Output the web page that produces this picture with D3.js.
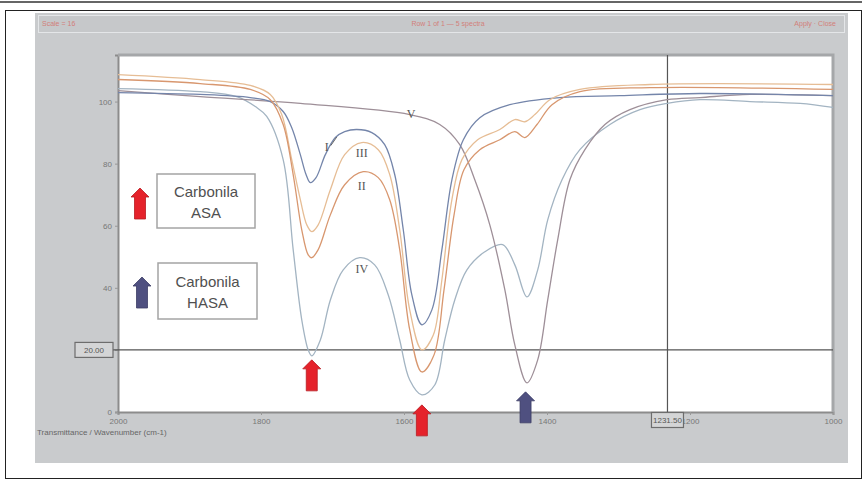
<!DOCTYPE html>
<html>
<head>
<meta charset="utf-8">
<script src="https://cdn.jsdelivr.net/npm/d3@7"></script>
<style>
body { margin: 0; background: #fff; }
svg { display: block; font-family: "Liberation Sans", Arial, sans-serif; }
</style>
</head>
<body>
<svg id="chart" width="862" height="480"></svg>
<script>
// spectra: wavenumber (cm-1) and transmittance (%)
var wnI = [2000,1885,1815,1787,1769,1757,1745,1737,1731,1723,1710,1696,1683,1666,1645,1627,1613,1601,1589,1575,1561,1547,1533,1517,1494,1452,1382,1298,1186,1000];
var tI  = [102.9,102.3,101.3,100.0,96.8,91.6,82.9,76.5,73.9,75.5,82.9,88.4,90.3,91.0,90.0,86.1,76.5,58.7,37.7,28.1,32.9,52.3,74.8,87.7,94.8,99.0,101.3,101.9,102.6,101.9];

var wnII = [2000,1885,1815,1787,1769,1755,1743,1734,1729,1720,1703,1683,1657,1636,1620,1606,1592,1575,1558,1544,1530,1516,1494,1466,1445,1431,1414,1393,1354,1256,1000];
var tII  = [107.1,105.8,103.9,100.6,92.6,76.5,58.7,50.6,49.7,52.3,63.5,73.2,77.4,75.5,68.4,52.3,26.5,12.9,18.4,39.4,63.5,78.1,84.5,87.7,90.3,88.4,92.6,99.0,103.2,104.5,103.9];

var wnIII = [2000,1885,1815,1787,1771,1757,1745,1736,1729,1720,1703,1683,1659,1636,1620,1606,1592,1575,1559,1547,1533,1519,1497,1466,1445,1431,1417,1396,1354,1256,1000];
var tIII  = [108.7,107.1,105.2,102.3,95.8,81.3,68.4,60.3,58.1,60.3,71.6,82.9,86.8,84.5,76.5,58.7,32.9,20.0,24.8,42.6,68.4,81.3,87.7,91.0,94.2,93.5,95.8,100.6,103.9,105.5,105.5];

var wnIV = [2000,1885,1834,1808,1792,1769,1755,1743,1734,1729,1717,1703,1685,1662,1641,1622,1606,1592,1575,1557,1543,1529,1512,1487,1462,1445,1428,1413,1399,1379,1354,1312,1270,1232,1186,1116,1046,1000];
var tIV  = [104.2,103.2,101.6,98.4,95.2,81.3,52.3,29.7,20.0,18.1,23.2,36.1,45.8,49.7,47.4,37.7,23.2,10.3,5.5,8.7,23.2,36.1,45.8,51.6,53.9,47.4,37.1,45.8,61.9,74.8,84.5,92.6,97.4,99.4,100.6,100.0,99.4,98.1];

var wnV = [2000,1885,1745,1592,1550,1522,1501,1480,1459,1445,1428,1413,1399,1385,1368,1347,1319,1284,1232,1186,1116,1000];
var tV  = [103.5,101.6,99.4,95.8,92.6,86.1,74.8,60.3,39.4,21.6,9.4,16.8,36.1,55.5,74.8,84.5,92.6,97.4,100.6,101.3,102.3,101.9];

var seriesNames = ["IV", "V", "I", "III", "II"];
var seriesColors = ["#a3b4c2", "#9e8f98", "#7485aa", "#e6bd95", "#d8976f"];

// axis ticks
var xTicks = [2000, 1800, 1600, 1400, 1200, 1000];
var yTicks = [0, 20, 40, 60, 80, 100];

// cursor read-out
var crossWn = 1231.5;
var crossT = 20;

// curve labels (placed at wavenumber / transmittance)
var labelText = ["I", "III", "II", "IV", "V"];
var labelWn = [1708, 1659, 1659, 1659, 1590];
var labelT = [85.5, 83.5, 72.9, 46.1, 96.1];

// arrows marking the carbonyl bands
var arrowWn = [1729, 1575, 1430];
var arrowTip = [16.8, 2.3, 6.5];
var arrowKind = ["ASA", "ASA", "HASA"];

var legendNames = ["ASA", "HASA"];

var RED = "#e5222b", BLUE = "#4f5080";

var svg = d3.select("#chart");
var plot = {left: 118, right: 833, top: 55, bottom: 412};

var x = d3.scaleLinear().domain([2000, 1000]).range([plot.left, plot.right]);
var y = d3.scaleLinear().domain([0, 115]).range([plot.bottom, plot.top]);

// page frame
svg.append("line").attr("x1", 0).attr("x2", 862).attr("y1", 2).attr("y2", 2)
	.style("stroke", "#666").style("stroke-width", 2);
svg.append("rect").attr("x", 5.5).attr("y", 10.5).attr("width", 856).attr("height", 468)
	.style("fill", "#fff").style("stroke", "#222");

// grey window
svg.append("rect").attr("x", 35).attr("y", 13).attr("width", 813).attr("height", 450)
	.style("fill", "#c9cbcd");
svg.append("rect").attr("x", 38.5).attr("y", 15.5).attr("width", 806).attr("height", 17)
	.style("fill", "#c6c8ca").style("stroke", "#e4e6e8");

var head = svg.append("g").style("font-size", "7px").style("fill", "#d27f7a");
head.append("text").attr("x", 42).attr("y", 26).text("Scale = 16");
head.append("text").attr("x", 448).attr("y", 26).attr("text-anchor", "middle").text("Row 1 of 1  \u2014  5 spectra");
head.append("text").attr("x", 836).attr("y", 26).attr("text-anchor", "end").text("Apply  \u00b7  Close");

svg.append("text").attr("x", 37).attr("y", 435)
	.style("font-size", "8px").style("fill", "#666")
	.text("Transmittance / Wavenumber (cm-1)");

// plot area
svg.append("rect").attr("x", plot.left).attr("y", plot.top)
	.attr("width", plot.right - plot.left).attr("height", plot.bottom - plot.top)
	.style("fill", "#fff");

svg.append("clipPath").attr("id", "clip").append("rect")
	.attr("x", plot.left).attr("y", plot.top)
	.attr("width", plot.right - plot.left).attr("height", plot.bottom - plot.top);

// axes
var xAxis = svg.append("g").attr("transform", "translate(0," + plot.bottom + ")")
	.call(d3.axisBottom(x).tickValues(xTicks).tickSize(3).tickFormat(d3.format("d")));
var yAxis = svg.append("g").attr("transform", "translate(" + plot.left + ",0)")
	.call(d3.axisLeft(y).tickValues(yTicks).tickSize(3).tickFormat(d3.format("d")));

[xAxis, yAxis].forEach(function(ax) {
	ax.select(".domain").style("stroke", "#8c8c8c").style("stroke-width", 2);
	ax.selectAll(".tick line").style("stroke", "#999");
	ax.selectAll("text").style("font-size", "8px").style("fill", "#777")
		.style("font-family", "'Liberation Sans', Arial, sans-serif");
});

// top and right frame of the plot
svg.append("path")
	.attr("d", "M" + plot.left + "," + plot.top + "H" + plot.right + "V" + plot.bottom)
	.style("fill", "none").style("stroke", "#a5a7a9").style("stroke-width", 3);

// cursor lines
svg.append("line").attr("x1", 113).attr("x2", plot.right)
	.attr("y1", y(crossT)).attr("y2", y(crossT))
	.style("stroke", "#555").style("stroke-width", 1.2);
svg.append("line").attr("x1", x(crossWn)).attr("x2", x(crossWn))
	.attr("y1", plot.top).attr("y2", plot.bottom + 2)
	.style("stroke", "#555").style("stroke-width", 1.2);

// spectra
var allWn = [wnIV, wnV, wnI, wnIII, wnII];
var allT = [tIV, tV, tI, tIII, tII];

var series = seriesNames.map(function(name, i) {
	var pts = [];
	for (var k = 0; k < allWn[i].length; k++) {
		pts.push({wn: allWn[i][k], t: allT[i][k]});
	}
	return {name: name, color: seriesColors[i], points: pts};
});

var line = d3.line()
	.x(function(d) { return x(d.wn); })
	.y(function(d) { return y(d.t); })
	.curve(d3.curveCatmullRom.alpha(0.5));

svg.append("g").attr("clip-path", "url(#clip)")
	.selectAll(".spectrum")
	.data(series)
	.enter().append("path")
	.attr("class", "spectrum")
	.attr("d", function(d) { return line(d.points); })
	.style("fill", "none")
	.style("stroke", function(d) { return d.color; })
	.style("stroke-width", 1.3);

// curve labels
var labels = labelText.map(function(t, i) { return {text: t, wn: labelWn[i], t: labelT[i]}; });
svg.selectAll(".clabel")
	.data(labels)
	.enter().append("text")
	.attr("class", "clabel")
	.attr("x", function(d) { return x(d.wn); })
	.attr("y", function(d) { return y(d.t); })
	.attr("text-anchor", "middle")
	.attr("dy", "0.35em")
	.style("font-family", "'Liberation Serif', 'Times New Roman', serif")
	.style("font-size", "12px")
	.style("fill", "#555")
	.text(function(d) { return d.text; });

// little leader from "I" to its curve
svg.append("line")
	.attr("x1", x(labelWn[0]) + 4).attr("y1", y(labelT[0]) - 1)
	.attr("x2", x(1694)).attr("y2", y(88.6))
	.style("stroke", "#666").style("stroke-width", 1);

// read-out boxes
function readout(cx, cy, w, txt) {
	svg.append("rect").attr("x", cx - w / 2).attr("y", cy - 7.5).attr("width", w).attr("height", 15)
		.style("fill", "#d4d5d6").style("stroke", "#6d6d6d").style("stroke-width", 1.2);
	svg.append("text").attr("x", cx).attr("y", cy).attr("dy", "0.35em").attr("text-anchor", "middle")
		.style("font-size", "8px").style("fill", "#555").text(txt);
}
readout(94, y(crossT), 38, crossT.toFixed(2));
readout(x(crossWn), 420, 32, crossWn.toFixed(2));

// block arrow pointing up, tip at (cx, tip)
function arrowPath(cx, tip, len) {
	return "M" + cx + "," + tip +
		"L" + (cx + 9) + "," + (tip + 9) +
		"L" + (cx + 5.5) + "," + (tip + 9) +
		"L" + (cx + 5.5) + "," + (tip + len) +
		"L" + (cx - 5.5) + "," + (tip + len) +
		"L" + (cx - 5.5) + "," + (tip + 9) +
		"L" + (cx - 9) + "," + (tip + 9) + "Z";
}

var arrows = arrowWn.map(function(w, i) { return {wn: w, tip: arrowTip[i], kind: arrowKind[i]}; });
svg.selectAll(".band-arrow")
	.data(arrows)
	.enter().append("path")
	.attr("class", "band-arrow")
	.attr("d", function(d) { return arrowPath(x(d.wn), y(d.tip), 31); })
	.style("fill", function(d) { return d.kind == "ASA" ? RED : BLUE; })
	.style("stroke", function(d) { return d.kind == "ASA" ? "#b81c22" : "#3c3d66"; })
	.style("stroke-width", 0.8);

// legend
var legendBox = [{x: 157, y: 174, w: 98, h: 54}, {x: 158, y: 263, w: 99, h: 56}];
var legendArrow = [{x: 140, y: 188}, {x: 142, y: 277}];

legendNames.forEach(function(name, i) {
	var b = legendBox[i];
	svg.append("rect").attr("x", b.x).attr("y", b.y).attr("width", b.w).attr("height", b.h)
		.style("fill", "#fff").style("stroke", "#a4a4a4").style("stroke-width", 1.5);
	var t = svg.append("text").attr("x", b.x + b.w / 2).attr("text-anchor", "middle")
		.style("font-size", "15px").style("fill", "#505050");
	t.append("tspan").attr("x", b.x + b.w / 2).attr("y", b.y + b.h / 2 - 4).text("Carbonila");
	t.append("tspan").attr("x", b.x + b.w / 2).attr("y", b.y + b.h / 2 + 17).text(name);
	svg.append("path")
		.attr("d", arrowPath(legendArrow[i].x, legendArrow[i].y, 31))
		.style("fill", i == 0 ? RED : BLUE)
		.style("stroke", i == 0 ? "#b81c22" : "#3c3d66")
		.style("stroke-width", 0.8);
});
</script>
</body>
</html>
